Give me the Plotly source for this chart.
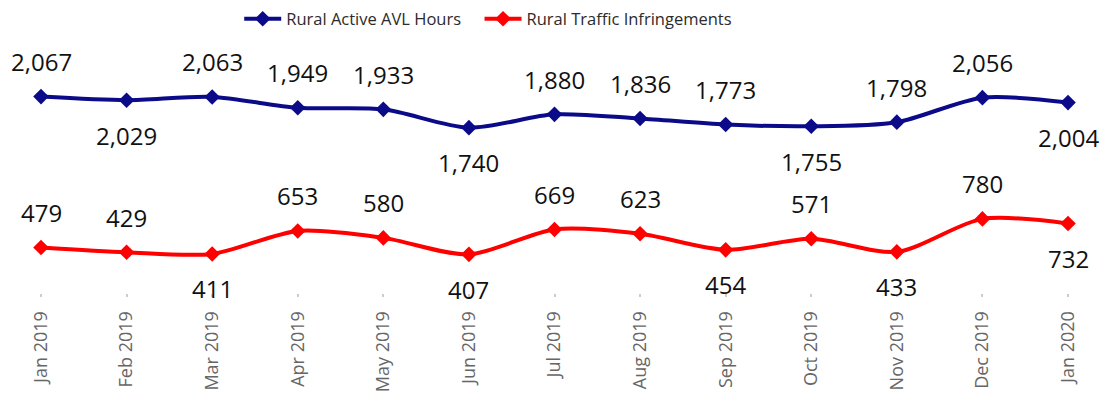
import plotly.graph_objects as go

months = ["Jan 2019", "Feb 2019", "Mar 2019", "Apr 2019", "May 2019", "Jun 2019",
          "Jul 2019", "Aug 2019", "Sep 2019", "Oct 2019", "Nov 2019", "Dec 2019", "Jan 2020"]
avl_hours = [2067, 2029, 2063, 1949, 1933, 1740, 1880, 1836, 1773, 1755, 1798, 2056, 2004]
infringements = [479, 429, 411, 653, 580, 407, 669, 623, 454, 571, 433, 780, 732]
# 1 = label above the point, -1 = label below
avl_label_side = [1, -1, 1, 1, 1, -1, 1, 1, 1, -1, 1, 1, -1]
inf_label_side = [1, 1, -1, 1, 1, -1, 1, 1, -1, 1, -1, 1, -1]

BLUE = "#0b0b8a"
RED = "#ff0000"
FONT = "Open Sans"

fig = go.Figure()
for name, vals, color, leg in [("Rural Active AVL Hours", avl_hours, BLUE, "legend"),
                               ("Rural Traffic Infringements", infringements, RED, "legend2")]:
    fig.add_trace(go.Scatter(
        x=months, y=vals, name=name, mode="lines+markers", legend=leg,
        line=dict(color=color, width=4, shape="spline", smoothing=0.8),
        marker=dict(symbol="diamond", size=12, color=color),
        cliponaxis=False,
    ))

annotations = []
for vals, sides in [(avl_hours, avl_label_side), (infringements, inf_label_side)]:
    for m, v, s in zip(months, vals, sides):
        annotations.append(dict(
            x=m, y=v, xref="x", yref="y", text=f"{v:,}", showarrow=False,
            yshift=35 * s, yanchor="middle",
            font=dict(family=FONT, size=24, color="#111111"),
        ))

legend_style = dict(orientation="h", xanchor="left", y=1.105, yanchor="middle",
                    font=dict(family=FONT, size=16.5, color="#2b2b2b"),
                    itemwidth=37, bgcolor="rgba(0,0,0,0)")

fig.update_layout(
    width=1104, height=396,
    margin=dict(l=41, r=36, t=45, b=103, autoexpand=False),
    paper_bgcolor="white", plot_bgcolor="white",
    font=dict(family=FONT),
    showlegend=True,
    legend=dict(x=0.193, **legend_style),
    legend2=dict(x=0.427, **legend_style),
    annotations=annotations,
    xaxis=dict(type="category", range=[0, 12], showgrid=False, zeroline=False,
               showline=False, tickangle=-90, ticks="outside", ticklen=3, tickwidth=2,
               tickcolor="#cccccc", ticklabelstandoff=7, automargin=False,
               tickfont=dict(family=FONT, size=18, color="#666666")),
    yaxis=dict(range=[0, 2610], visible=False, showgrid=False, automargin=False),
)

fig.write_html("out.html")
